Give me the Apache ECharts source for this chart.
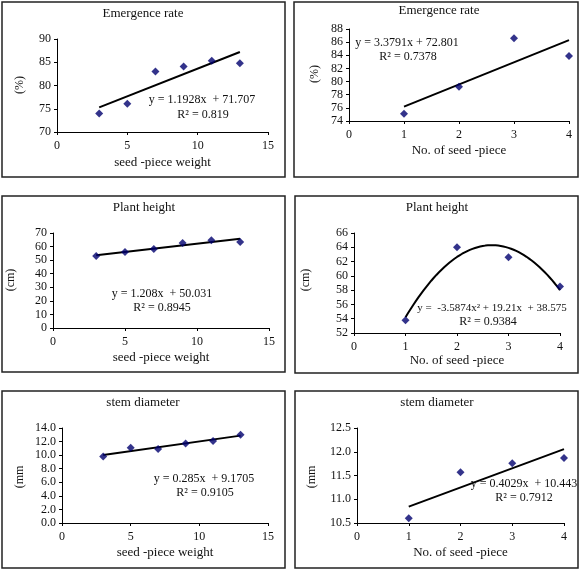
<!DOCTYPE html>
<html>
<head>
<meta charset="utf-8">
<script src="https://cdn.jsdelivr.net/npm/echarts@6/dist/echarts.min.js"></script>
<style>html,body{margin:0;padding:0;background:#fff}#c{width:582px;height:576px}</style>
</head>
<body>
<div id="c"></div>
<script>
// ---- data ----
const xWeight = [3, 5, 7, 9, 11, 13];
const xNum = [1, 2, 3, 4];
const emergenceWeight = [74.0, 76.1, 83.0, 84.1, 85.3, 84.8];
const emergenceNum = [75.1, 79.2, 86.6, 83.9];
const heightWeight = [53.0, 56.0, 58.3, 62.7, 64.7, 63.3];
const heightNum = [53.8, 64.0, 62.6, 58.5];
const stemWeight = [9.8, 11.1, 10.9, 11.7, 12.1, 13.0];
const stemNum = [10.6, 11.57, 11.76, 11.87];
// trendline coefficients [c0, c1, c2] (y = c0 + c1 x + c2 x^2)
const trendEmWeight = [71.707, 1.1928, 0];
const trendEmNum = [72.801, 3.3791, 0];
const trendHtWeight = [50.031, 1.208, 0];
const trendHtNum = [38.575, 19.21, -3.5874];
const trendStWeight = [9.1705, 0.285, 0];
const trendStNum = [10.443, 0.4029, 0];
const titles = ['Emergence rate', 'Emergence rate', 'Plant height', 'Plant height', 'stem diameter', 'stem diameter'];
const xNames = ['seed -piece weight', 'No. of seed -piece', 'seed -piece weight', 'No. of seed -piece', 'seed -piece weight', 'No. of seed -piece'];
const yNames = ['(%)', '(%)', '(cm)', '(cm)', '(mm', '(mm'];
const equations = ['y = 1.1928x  + 71.707', 'y = 3.3791x + 72.801', 'y = 1.208x  + 50.031', 'y =  -3.5874x² + 19.21x  + 38.575', 'y = 0.285x  + 9.1705', 'y = 0.4029x  + 10.443'];
const r2s = ['R² = 0.819', 'R² = 0.7378', 'R² = 0.8945', 'R² = 0.9384', 'R² = 0.9105', 'R² = 0.7912'];

const panels = [
  {xs: xWeight, ys: emergenceWeight, tr: trendEmWeight, grid: [57, 39, 211, 93], x: [0, 15, 5], y: [70, 90, 5, 0], box: [2, 2, 283, 175], title: [143, 14], eq: [202, 100], r2: [203, 115], yn: [20, 85], xnGap: 24},
  {xs: xNum, ys: emergenceNum, tr: trendEmNum, grid: [349, 29, 220, 92], x: [0, 4, 1], y: [74, 88, 2, 0], box: [294, 2, 284, 175], title: [439, 11], eq: [407, 43], r2: [408, 57], yn: [315, 74], xnGap: 23},
  {xs: xWeight, ys: heightWeight, tr: trendHtWeight, grid: [53, 233, 216, 95], x: [0, 15, 5], y: [0, 70, 10, 0], box: [2, 196, 283, 176], title: [144, 208], eq: [162, 294], r2: [162, 308], yn: [11, 280], xnGap: 23},
  {xs: xNum, ys: heightNum, tr: trendHtNum, grid: [354, 233, 206, 100], x: [0, 4, 1], y: [52, 66, 2, 0], box: [295, 196, 283, 177], title: [437, 208], eq: [492, 308], r2: [488, 322], yn: [306, 280], xnGap: 18},
  {xs: xWeight, ys: stemWeight, tr: trendStWeight, grid: [62, 428, 206, 95], x: [0, 15, 5], y: [0, 14, 2, 1], box: [2, 391, 283, 177], title: [143, 403], eq: [204, 479], r2: [205, 493], yn: [20, 477], xnGap: 23},
  {xs: xNum, ys: stemNum, tr: trendStNum, grid: [357, 428, 207, 95], x: [0, 4, 1], y: [10.5, 12.5, 0.5, 1], box: [295, 391, 283, 177], title: [437, 403], eq: [524, 484], r2: [524, 498], yn: [312, 477], xnGap: 23}
];

const FONT = '"Liberation Serif", "DejaVu Serif", serif';
const grid = [], xAxis = [], yAxis = [], series = [], graphic = [];
panels.forEach((p, i) => {
  graphic.push({type: 'rect', shape: {x: p.box[0], y: p.box[1], width: p.box[2], height: p.box[3]}, style: {fill: 'none', stroke: '#222', lineWidth: 1.5}, z: 0});
  grid.push({left: p.grid[0], top: p.grid[1], width: p.grid[2], height: p.grid[3]});
  xAxis.push({
    type: 'value', gridIndex: i, min: p.x[0], max: p.x[1], interval: p.x[2],
    name: xNames[i], nameLocation: 'middle', nameGap: p.xnGap,
    nameTextStyle: {fontFamily: FONT, fontSize: 13, color: '#111'},
    axisLine: {lineStyle: {color: '#000', width: 1}},
    axisTick: {show: true, length: 3, lineStyle: {color: '#000'}},
    axisLabel: {fontFamily: FONT, fontSize: 12, color: '#111', margin: 8},
    splitLine: {show: false}
  });
  yAxis.push({
    type: 'value', gridIndex: i, min: p.y[0], max: p.y[1], interval: p.y[2],
    axisLine: {show: true, lineStyle: {color: '#000', width: 1}},
    axisTick: {show: true, length: 3, lineStyle: {color: '#000'}},
    axisLabel: {fontFamily: FONT, fontSize: 12, color: '#111', margin: 6,
      formatter: v => p.y[3] ? v.toFixed(p.y[3]) : String(v)},
    splitLine: {show: false}
  });
  const xMin = Math.min(...p.xs), xMax = Math.max(...p.xs);
  const trend = [];
  const steps = p.tr[2] !== 0 ? 60 : 1;
  for (let k = 0; k <= steps; k++) {
    const xv = xMin + (xMax - xMin) * k / steps;
    trend.push([xv, p.tr[0] + p.tr[1] * xv + p.tr[2] * xv * xv]);
  }
  series.push({type: 'line', xAxisIndex: i, yAxisIndex: i, data: trend, symbol: 'none', smooth: false,
    lineStyle: {color: '#000', width: 2}, z: 2, silent: true});
  series.push({type: 'scatter', xAxisIndex: i, yAxisIndex: i, data: p.xs.map((x, k) => [x, p.ys[k]]),
    symbol: 'diamond', symbolSize: 8, itemStyle: {color: '#00006e'}, z: 3});
  const txt = (t, pos, size, rot) => graphic.push({type: 'text', x: pos[0], y: pos[1], rotation: rot || 0,
    style: {text: t, font: size + 'px ' + FONT, fill: '#111', textAlign: 'center', textVerticalAlign: 'middle'}, z: 5});
  txt(titles[i], p.title, 13);
  txt(equations[i], p.eq, i === 3 ? 11 : 12);
  txt(r2s[i], p.r2, 12);
  txt(yNames[i], p.yn, 12, Math.PI / 2);
});

const chart = echarts.init(document.getElementById('c'));
chart.setOption({animation: false, backgroundColor: '#fff', grid, xAxis, yAxis, series, graphic});
</script>
</body>
</html>
